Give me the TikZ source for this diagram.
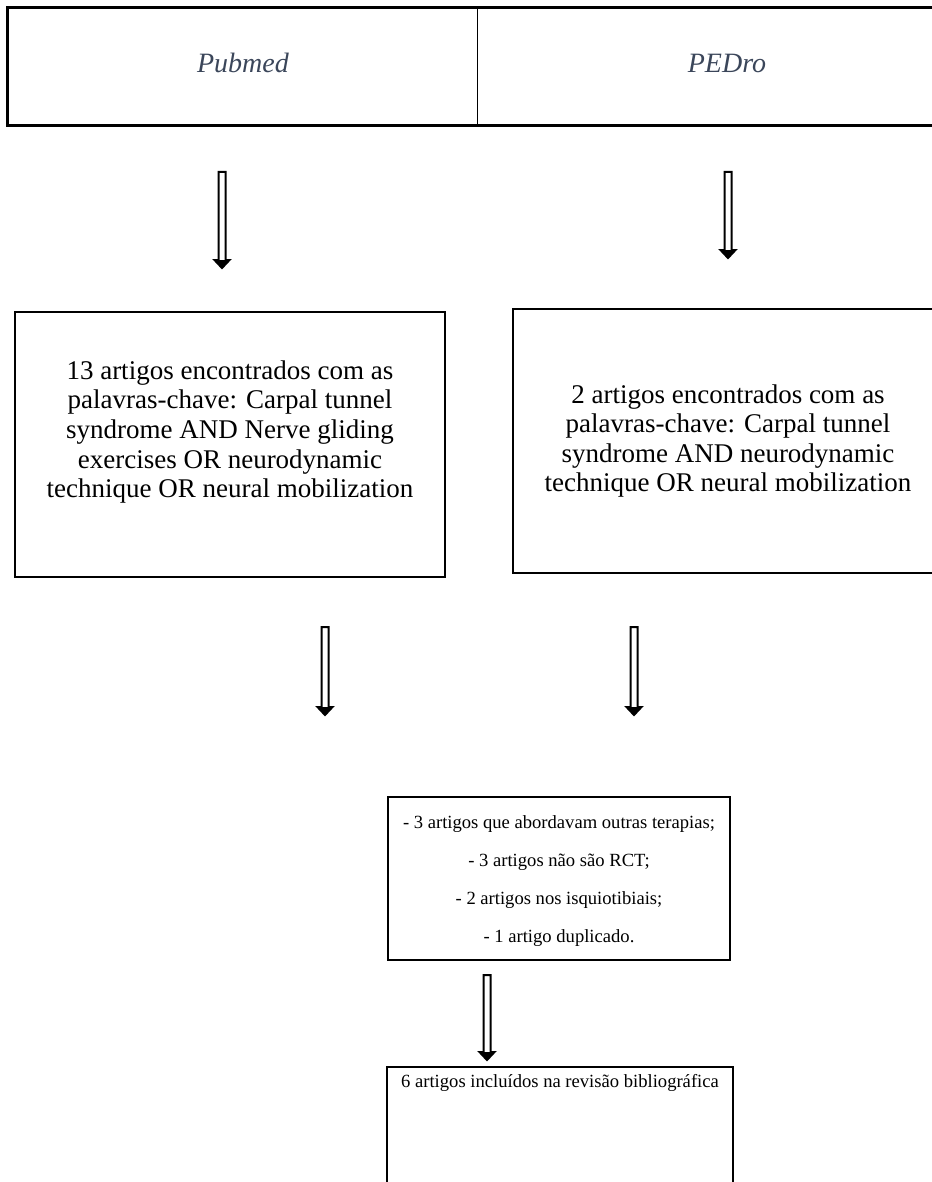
\documentclass[tikz,border=0pt]{standalone}
\usepackage{fontspec}
\setmainfont{Liberation Serif}
\usepackage{tikz}
\usetikzlibrary{calc}
\definecolor{dbslate}{RGB}{59,70,90}

% outlined down arrow between two points
\newcommand{\hollowarrow}[2]{%
  \draw[hollow] ($(#1)+(-3.5,0)$) -- ($(#2)+(-3.5,-8)$) -- ($(#2)+(-7.5,-8)$) -- (#2)
    -- ($(#2)+(7.5,-8)$) -- ($(#2)+(3.5,-8)$) -- ($(#1)+(3.5,0)$) -- cycle;
  \fill ($(#2)+(-7.5,-8)$) -- (#2) -- ($(#2)+(7.5,-8)$) -- cycle;}

\begin{document}
\begin{tikzpicture}[x=0.5pt,y=-0.5pt,
  box/.style={draw, line width=0.8pt, align=center, inner sep=0pt},
  hollow/.style={draw, line width=1pt, line join=miter},
  upper/.style={font=\fontsize{13.5}{14.8}\selectfont, align=center},
  lower/.style={font=\fontsize{9.3}{19}\selectfont, align=center}]
\useasboundingbox (0,0) rectangle (931,1182);

% bases
\node (pubmed) [box, line width=0.5pt, minimum width=234.5pt, minimum height=58.5pt] at (242.5,66.5) {};
\node (pedro) [box, line width=0.5pt, minimum width=250pt, minimum height=58.5pt] at (727,66.5) {};
\draw[line width=1.2pt] (pubmed.north west) rectangle (pedro.south east);
\node (pubmedtext) [text=dbslate, font=\fontsize{14}{16}\selectfont\itshape] at (243,63) {Pubmed};
\node (pedrotext) [text=dbslate, font=\fontsize{14}{16}\selectfont\itshape] at (727,63) {PEDro};

% results
\node (pubres) [box, minimum width=215pt, minimum height=132.5pt] at (230,444.5) {};
\node (pubrestext) [upper] at (230,432)
  {13 artigos encontrados com as\\palavras-chave: Carpal tunnel\\syndrome AND Nerve gliding\\exercises OR neurodynamic\\technique OR neural mobilization};
\node (pedres) [box, upper, minimum width=215pt, minimum height=132pt] at (728,441)
  {2 artigos encontrados com as\\palavras-chave: Carpal tunnel\\syndrome AND neurodynamic\\technique OR neural mobilization};

% exclusions
\node (excl) [box, minimum width=171pt, minimum height=81.5pt] at (559,878.5) {};
\node (excltext) [lower] at (559,881.5)
  {- 3 artigos que abordavam outras terapias;\\- 3 artigos não são RCT;\\- 2 artigos nos isquiotibiais;\\- 1 artigo duplicado.};

\node (incl) [box, minimum width=173pt, minimum height=62pt, anchor=north] at (560,1066) {};
\node (incltext) [lower] at (560,1083) {6 artigos incluídos na revisão bibliográfica};

\coordinate (a1) at (222,172); \coordinate (a1e) at (222,268);
\coordinate (a2) at (728,172); \coordinate (a2e) at (728,258);
\coordinate (a3) at (325,627); \coordinate (a3e) at (325,715);
\coordinate (a4) at (634,627); \coordinate (a4e) at (634,715);
\coordinate (a5) at (487,975); \coordinate (a5e) at (487,1060);

\hollowarrow{a1}{a1e}
\hollowarrow{a2}{a2e}
\hollowarrow{a3}{a3e}
\hollowarrow{a4}{a4e}
\hollowarrow{a5}{a5e}
\end{tikzpicture}
\end{document}
